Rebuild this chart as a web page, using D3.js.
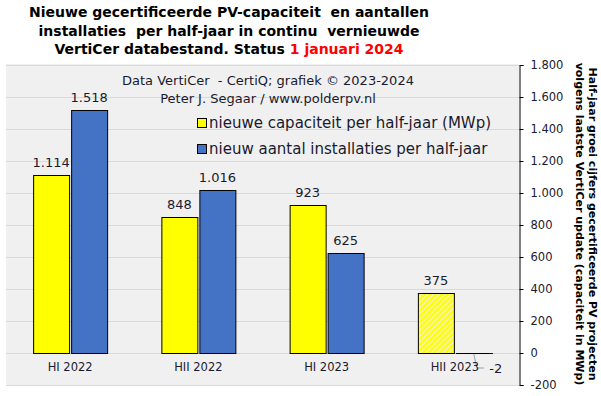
<!DOCTYPE html>
<html>
<head>
<meta charset="utf-8">
<script src="https://cdn.jsdelivr.net/npm/d3@7"></script>
<style>
  body { margin: 0; background: #fff; }
  text { font-family: "DejaVu Sans", Verdana, sans-serif; }
</style>
</head>
<body>
<div id="chart"></div>
<script>
"use strict";

// == data ==
var periods = ["HI 2022", "HII 2022", "HI 2023", "HII 2023"];
var capaciteit = [1114, 848, 923, 375];
var installaties = [1518, 1016, 625, -2];
var seriesNames = ["nieuwe capaciteit per half-jaar (MWp)", "nieuw aantal installaties per half-jaar"];
var yTicks = [-200, 0, 200, 400, 600, 800, 1000, 1200, 1400, 1600, 1800];

var width = 601, height = 396;
var plot = { left: 6, right: 519, top: 64, bottom: 385 };

var nl = d3.formatLocale({ decimal: ",", thousands: ".", grouping: [3], currency: ["€", ""], minus: "-" });
var fmt = nl.format(",d");

var svg = d3.select("#chart").append("svg")
  .attr("width", width)
  .attr("height", height);

var defs = svg.append("defs");
var pat = defs.append("pattern")
  .attr("id", "hatch")
  .attr("patternUnits", "userSpaceOnUse")
  .attr("width", 4).attr("height", 4)
  .attr("patternTransform", "rotate(45)");
pat.append("rect").attr("width", 4).attr("height", 4).attr("fill", "#ffff00");
pat.append("rect").attr("width", 1.5).attr("height", 4).attr("fill", "#f2f0cc");

// plot background
svg.append("rect")
  .attr("x", plot.left).attr("y", plot.top)
  .attr("width", plot.right - plot.left)
  .attr("height", plot.bottom - plot.top)
  .attr("fill", "#f0f0f0");

var x0 = d3.scaleBand().domain(periods).range([plot.left, plot.right]);
var x1 = d3.scaleBand().domain([0, 1]).range([-37, 37]).paddingInner(0.05);
var y = d3.scaleLinear().domain([-200, 1800]).range([plot.bottom, 65]);

// grid
svg.append("g").selectAll("line")
  .data(yTicks)
  .enter().append("line")
  .attr("x1", plot.left).attr("x2", plot.right)
  .attr("y1", function (d) { return Math.round(y(d)) + 0.5; })
  .attr("y2", function (d) { return Math.round(y(d)) + 0.5; })
  .attr("stroke", "#d9d9d9")
  .attr("stroke-width", 1);

// right axis
var yAxis = d3.axisRight(y).tickValues(yTicks).tickFormat(fmt).tickSize(4).tickPadding(7);
var ax = svg.append("g").attr("transform", "translate(" + (plot.right + 0.5) + ",0)").call(yAxis);
ax.select(".domain").attr("stroke", "#000");
ax.selectAll(".tick line").attr("stroke", "#000");
ax.selectAll(".tick text")
  .style("font-family", "DejaVu Sans, Verdana, sans-serif")
  .style("font-size", "11.5px")
  .attr("fill", "#1a1a2e");

// bars
var rows = periods.map(function (p, i) {
  return { period: p, vals: [capaciteit[i], installaties[i]] };
});

var groups = svg.append("g").selectAll("g")
  .data(rows)
  .enter().append("g")
  .attr("transform", function (d) { return "translate(" + (x0(d.period) + x0.bandwidth() / 2) + ",0)"; });

groups.selectAll("rect")
  .data(function (d, i) {
    return d.vals.map(function (v, s) { return { v: v, s: s, i: i }; });
  })
  .enter().append("rect")
  .attr("x", function (d) { return Math.round(x1(d.s)) + 0.5; })
  .attr("width", Math.round(x1.bandwidth()))
  .attr("y", function (d) { return Math.round(y(Math.max(d.v, 0))) + 0.5; })
  .attr("height", function (d) { return Math.max(Math.abs(Math.round(y(d.v)) - Math.round(y(0))), 0.01); })
  .attr("fill", function (d) {
    if (d.s == 0) return d.i == 3 ? "url(#hatch)" : "#ffff00";
    return "#4472c4";
  })
  .attr("stroke", "#000")
  .attr("stroke-width", 1);

// value labels
groups.selectAll("text.val")
  .data(function (d) {
    return d.vals.map(function (v, s) { return { v: v, s: s }; });
  })
  .enter().append("text")
  .attr("class", "val")
  .attr("x", function (d) {
    if (d.v < 0) return x1(d.s) + 40;
    return x1(d.s) + x1.bandwidth() / 2;
  })
  .attr("y", function (d) {
    if (d.v < 0) return y(0) + 20;
    return y(d.v) - 8;
  })
  .attr("text-anchor", "middle")
  .style("font-size", "13px")
  .attr("fill", "#1a1a2e")
  .text(function (d) { return fmt(d.v); });

// leader line for the small negative value
var cx3 = x0(periods[3]) + x0.bandwidth() / 2;
svg.append("path")
  .attr("d", "M" + (cx3 + x1(1) + 18) + "," + (y(0) + 1) + " L" + (cx3 + x1(1) + 21) + "," + (y(0) + 15) + " L" + (cx3 + x1(1) + 28) + "," + (y(0) + 15))
  .attr("fill", "none")
  .attr("stroke", "#a0a0a0")
  .attr("stroke-width", 1);

// category labels
svg.append("g").selectAll("text")
  .data(periods)
  .enter().append("text")
  .attr("x", function (d) { return x0(d) + x0.bandwidth() / 2; })
  .attr("y", 371)
  .attr("text-anchor", "middle")
  .style("font-size", "11.5px")
  .attr("fill", "#1a1a2e")
  .text(function (d) { return d; });

// title
var title = svg.append("text")
  .attr("text-anchor", "middle")
  .style("font-size", "14px")
  .style("font-weight", "bold")
  .style("white-space", "pre")
  .attr("fill", "#000");
title.append("tspan").attr("x", 229).attr("y", 17).text("Nieuwe gecertificeerde PV-capaciteit  en aantallen");
title.append("tspan").attr("x", 229).attr("y", 36).text("installaties  per half-jaar in continu  vernieuwde");
var t3 = title.append("tspan").attr("x", 229).attr("y", 54);
t3.append("tspan").text("VertiCer databestand. Status ");
t3.append("tspan").attr("fill", "#ff0000").text("1 januari 2024");

// source
svg.append("text")
  .attr("x", 268).attr("y", 85)
  .attr("text-anchor", "middle")
  .style("font-size", "13px")
  .style("white-space", "pre")
  .attr("fill", "#1a1a2e")
  .text("Data VertiCer  - CertiQ; grafiek © 2023-2024");
svg.append("text")
  .attr("x", 268).attr("y", 103)
  .attr("text-anchor", "middle")
  .style("font-size", "13px")
  .attr("fill", "#1a1a2e")
  .text("Peter J. Segaar / www.polderpv.nl");

// legend
var legend = svg.selectAll(".legend")
  .data(seriesNames)
  .enter().append("g")
  .attr("class", "legend")
  .attr("transform", function (d, i) { return "translate(197," + (118 + i * 26) + ")"; });
legend.append("rect")
  .attr("x", 0.5).attr("y", 0.5)
  .attr("width", 9).attr("height", 9)
  .attr("fill", function (d, i) { return i == 0 ? "#ffff00" : "#4472c4"; })
  .attr("stroke", "#000");
legend.append("text")
  .attr("x", 12).attr("y", 10)
  .style("font-size", "15px")
  .attr("fill", "#1a1a2e")
  .text(function (d) { return d; });

// right axis title
var rt = svg.append("text")
  .attr("transform", "translate(585,224) rotate(90)")
  .attr("text-anchor", "middle")
  .style("font-size", "11px")
  .style("font-weight", "bold")
  .attr("fill", "#000");
rt.append("tspan").attr("x", 0).attr("y", -4).text("Half-jaar groei cijfers gecertificeerde PV projecten");
rt.append("tspan").attr("x", 0).attr("y", 9).text("volgens laatste VertiCer update (capaciteit in MWp)");
</script>
</body>
</html>
